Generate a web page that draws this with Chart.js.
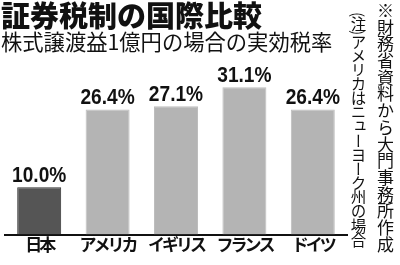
<!DOCTYPE html>
<html><head><meta charset="utf-8">
<script src="https://cdn.jsdelivr.net/npm/chart.js@4/dist/chart.umd.min.js"></script>
<style>
html,body{margin:0;padding:0;background:#fff;}
#wrap{position:relative;width:400px;height:265px;overflow:hidden;}
#c{position:absolute;left:0;top:0;}
.t{position:absolute;font-family:"Noto Sans CJK JP",sans-serif;color:#111;white-space:nowrap;line-height:1;}
#title{left:1px;top:0px;font-size:29px;font-weight:900;}
#sub{left:1px;top:30px;font-size:21.3px;font-weight:400;}
.v{writing-mode:vertical-rl;font-size:17px;}
#n1{left:377px;top:2px;letter-spacing:-0.3px;}
#n2{left:350px;top:12px;font-size:15.5px;letter-spacing:-1.35px;}
</style></head>
<body><div id="wrap"><canvas id="c" width="400" height="265"></canvas>
<div class="t" id="title">証券税制の国際比較</div>
<div class="t" id="sub">株式譲渡益1億円の場合の実効税率</div>
<div class="t v" id="n1">※財務省資料から大門事務所作成</div>
<div class="t v" id="n2">(注)アメリカはニューヨーク州の場合</div>
</div>
<script>
const categories = ["日本","アメリカ","イギリス","フランス","ドイツ"];
const rates = [10.0, 26.4, 27.1, 31.1, 26.4];
const rateLabels = ["10.0%","26.4%","27.1%","31.1%","26.4%"];
const barColors = ["#555555","#b4b4b4","#b4b4b4","#b4b4b4","#b4b4b4"];
const borderColors = ["#333333","#bdbdbd","#bdbdbd","#bdbdbd","#bdbdbd"];

const valueLabels = {
  id:'valueLabels',
  beforeDraw(chart){ chart.ctx.letterSpacing = '-3px'; },
  afterDatasetsDraw(chart){
    const ctx = chart.ctx;
    const meta = chart.getDatasetMeta(0);
    ctx.save();
    ctx.letterSpacing = '0px';
    ctx.font = 'bold 22px "Liberation Sans",sans-serif';
    ctx.fillStyle = '#111';
    ctx.textAlign = 'center';
    ctx.textBaseline = 'alphabetic';
    meta.data.forEach((bar,i)=>{
      ctx.save();
      ctx.translate(bar.x, bar.y - 5);
      ctx.scale(0.87,1);
      ctx.fillText(rateLabels[i], 0, 0);
      ctx.restore();
    });
    ctx.restore();
  },
  afterDraw(chart){ chart.ctx.letterSpacing = '0px'; }
};

new Chart(document.getElementById('c'),{
  type:'bar',
  data:{labels:categories,datasets:[{data:rates,backgroundColor:barColors,borderColor:borderColors,borderWidth:1,categoryPercentage:1,barPercentage:0.643}]},
  options:{
    responsive:false,animation:false,
    layout:{padding:{left:5,right:53,top:45,bottom:10}},
    plugins:{legend:{display:false},tooltip:{enabled:false},title:{display:false}},
    scales:{
      x:{grid:{display:false,drawTicks:false},border:{display:true,color:'#111',width:2},
         ticks:{padding:0,color:'#111',maxRotation:0,minRotation:0,autoSkip:false,
                font:{family:'"Noto Sans CJK JP",sans-serif',size:17,weight:700}}},
      y:{display:false,min:0,max:40}
    }
  },
  plugins:[valueLabels]
});
</script></body></html>
